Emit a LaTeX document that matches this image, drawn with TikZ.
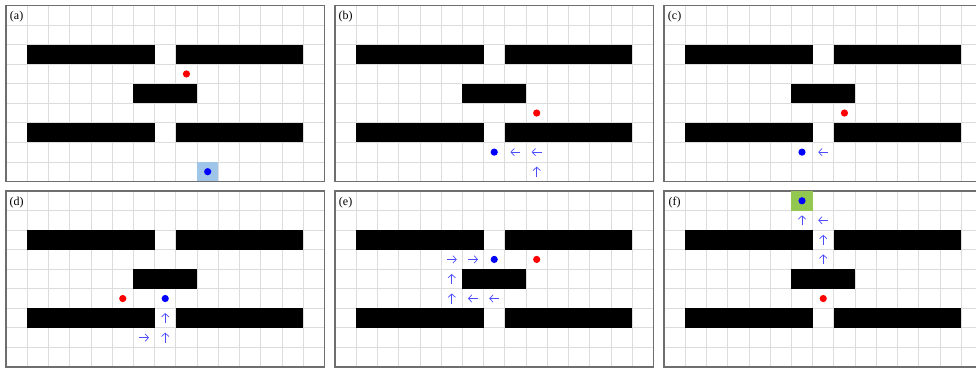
\documentclass[tikz,border=0pt]{standalone}
\usepackage{fontspec}
\setmainfont{Liberation Serif}
\usetikzlibrary{arrows.meta}
\definecolor{gridgray}{HTML}{DCDCDC}
\definecolor{framegray}{HTML}{6E6E6E}
\definecolor{startblue}{HTML}{9FC5E8}
\definecolor{goalgreen}{RGB}{146,200,80}
\definecolor{moveblue}{RGB}{75,75,255}

% grid, walls, frame and tag of one panel (cell units)
\newcommand{\maze}[1]{%
  \foreach \c in {1,...,14} \draw[gridline] (\c,0) -- (\c,9);
  \foreach \r in {1,...,8} \draw[gridline] (0,\r) -- (15,\r);
  \fill[wall] (1,2) rectangle (7,3);
  \fill[wall] (8,2) rectangle (14,3);
  \fill[wall] (6,4) rectangle (9,5);
  \fill[wall] (1,6) rectangle (7,7);
  \fill[wall] (8,6) rectangle (14,7);
  \draw[frame] (0,0) rectangle (15,9);
  \node[tag] (tag-#1) at (0.5,0.58) {(#1)};
}
% one move arrow: column, row, direction angle
\newcommand{\mv}[3]{%
  \draw[mvline, shift={(#1+0.5,#2+0.5)}, rotate=#3] (-5pt,0) -- (5pt,0);
}

\begin{document}
\begin{tikzpicture}[x=1pt, y=-1pt,
    gridline/.style={draw=gridgray, line width=0.8pt},
    wall/.style={fill=black},
    frame/.style={draw=framegray, line width=1.1pt},
    tag/.style={font=\fontsize{12}{14}\selectfont, inner sep=0pt},
    bluedot/.style={circle, fill=blue, inner sep=0pt, minimum size=7.2pt},
    reddot/.style={circle, fill=red, inner sep=0pt, minimum size=7.2pt},
    mvline/.style={draw=moveblue, line width=0.7pt, -{Straight Barb[length=3.4pt, width=7.4pt]}}]
  \useasboundingbox (0,0) rectangle (976,369);
  \clip (0,0) rectangle (976,369);

  % (a)
  \begin{scope}[shift={(6,5.5)}, x=21.23pt, y=-19.55pt]
    \maze{a}
    \fill[startblue] (9,8) rectangle (10,9);
    \node[reddot] (red-a) at (8.5,3.5) {};
    \node[bluedot] (blue-a) at (9.5,8.5) {};
  \end{scope}

  % (b)
  \begin{scope}[shift={(335,5.5)}, x=21.23pt, y=-19.55pt]
    \maze{b}
    \node[reddot] (red-b) at (9.5,5.5) {};
    \node[bluedot] (blue-b) at (7.5,7.5) {};
    \mv{8}{7}{180}
    \mv{9}{7}{180}
    \mv{9}{8}{90}
  \end{scope}

  % (c)
  \begin{scope}[shift={(664,5.5)}, x=21.23pt, y=-19.55pt]
    \maze{c}
    \node[reddot] (red-c) at (8.5,5.5) {};
    \node[bluedot] (blue-c) at (6.5,7.5) {};
    \mv{7}{7}{180}
  \end{scope}

  % (d)
  \begin{scope}[shift={(6,191)}, x=21.23pt, y=-19.55pt]
    \maze{d}
    \node[reddot] (red-d) at (5.5,5.5) {};
    \node[bluedot] (blue-d) at (7.5,5.5) {};
    \mv{7}{6}{90}
    \mv{7}{7}{90}
    \mv{6}{7}{0}
  \end{scope}

  % (e)
  \begin{scope}[shift={(335,191)}, x=21.23pt, y=-19.55pt]
    \maze{e}
    \node[reddot] (red-e) at (9.5,3.5) {};
    \node[bluedot] (blue-e) at (7.5,3.5) {};
    \mv{5}{3}{0}
    \mv{6}{3}{0}
    \mv{5}{4}{90}
    \mv{5}{5}{90}
    \mv{6}{5}{180}
    \mv{7}{5}{180}
  \end{scope}

  % (f)
  \begin{scope}[shift={(664,191)}, x=21.23pt, y=-19.55pt]
    \maze{f}
    \fill[goalgreen] (6,0) rectangle (7,1);
    \node[reddot] (red-f) at (7.5,5.5) {};
    \node[bluedot] (blue-f) at (6.5,0.5) {};
    \mv{6}{1}{90}
    \mv{7}{1}{180}
    \mv{7}{2}{90}
    \mv{7}{3}{90}
  \end{scope}
\end{tikzpicture}
\end{document}
